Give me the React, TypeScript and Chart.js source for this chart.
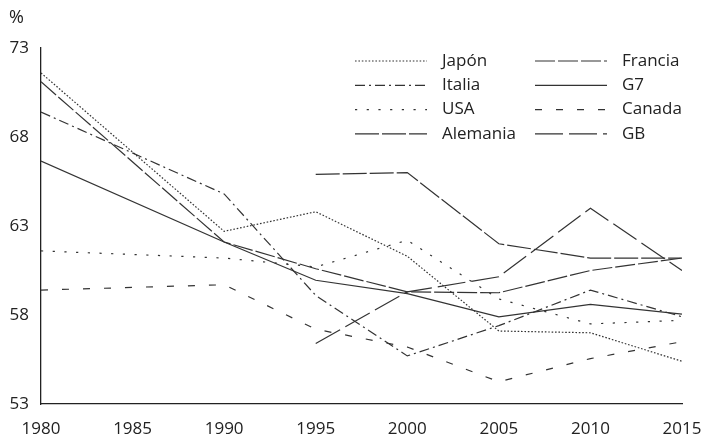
import React, { useEffect, useRef } from "react";
import { Chart, registerables } from "chart.js";

Chart.register(...registerables);

const years = [1980, 1985, 1990, 1995, 2000, 2005, 2010, 2015];
const yTicks = [53, 58, 63, 68, 73];
const xTicks = [1980, 1985, 1990, 1995, 2000, 2005, 2010, 2015];

const japon = [71.6, null, 62.7, 63.8, 61.3, 57.1, 57.0, 55.4];
const italia = [69.4, null, 64.8, 59.1, 55.7, 57.4, 59.4, 57.9];
const usa = [61.6, null, 61.2, 60.7, 62.2, 58.9, 57.5, 57.7];
const alemania = [null, null, null, 65.9, 66.0, 62.0, 61.2, 61.2];
const francia = [71.1, null, 62.1, 60.6, 59.3, 59.25, 60.5, 61.2];
const g7 = [66.65, null, 62.1, 59.95, 59.2, 57.9, 58.6, 58.05];
const canada = [59.4, null, 59.7, 57.2, 56.2, 54.25, 55.55, 56.5];
const gb = [null, null, null, 56.4, 59.3, 60.15, 64.0, 60.5];

const FONT = '"Open Sans", sans-serif';
const INK = "#222";
const LINE = "#333";

const seriesDefs = [
  { label: "Japón", values: japon, dash: [1.6, 1.8] },
  { label: "Italia", values: italia, dash: [10, 4, 2, 4] },
  { label: "USA", values: usa, dash: [2.2, 9.5] },
  { label: "Alemania", values: alemania, dash: [24, 3] },
  { label: "Francia", values: francia, dash: [20, 3] },
  { label: "G7", values: g7, dash: [] as number[] },
  { label: "Canada", values: canada, dash: [7, 14] },
  { label: "GB", values: gb, dash: [28, 6] },
];

const legendPlugin = {
  id: "innerLegend",
  afterDraw(chart: any) {
    const { ctx, chartArea } = chart;
    ctx.save();
    ctx.font = `17px ${FONT}`;
    ctx.textBaseline = "middle";
    ctx.textAlign = "left";
    chart.data.datasets.forEach((ds: any, i: number) => {
      const col = Math.floor(i / 4);
      const row = i % 4;
      const sx = 355 + col * 180;
      const sy = chartArea.top + 13 + row * 24.3;
      ctx.strokeStyle = ds.borderColor;
      ctx.lineWidth = ds.borderWidth;
      ctx.setLineDash(ds.borderDash || []);
      ctx.beginPath();
      ctx.moveTo(sx, sy);
      ctx.lineTo(sx + 72, sy);
      ctx.stroke();
      ctx.setLineDash([]);
      ctx.fillStyle = INK;
      ctx.fillText(ds.label, sx + 87, sy);
    });
    ctx.font = `18px ${FONT}`;
    ctx.fillStyle = INK;
    ctx.fillText("%", chartArea.left - 32, chartArea.top - 30);
    ctx.restore();
  },
};

export default function App() {
  const ref = useRef<HTMLCanvasElement | null>(null);

  useEffect(() => {
    if (!ref.current) return;
    const datasets = seriesDefs.map((s) => ({
      label: s.label,
      data: years.map((y, i) => ({ x: y, y: s.values[i] })),
      borderColor: LINE,
      borderWidth: 1.2,
      borderDash: s.dash,
      pointRadius: 0,
      fill: false,
      spanGaps: true,
      tension: 0,
    }));
    const chart = new Chart(ref.current, {
      type: "line",
      data: { datasets },
      options: {
        responsive: false,
        animation: false,
        layout: { padding: { top: 48, right: 20, left: 0, bottom: 0 } },
        plugins: {
          legend: { display: false },
          tooltip: { enabled: false },
        },
        scales: {
          x: {
            type: "linear",
            min: 1980,
            max: 2015,
            afterBuildTicks: (scale: any) => {
              scale.ticks = xTicks.map((v) => ({ value: v }));
            },
            afterFit: (scale: any) => {
              scale.height = 36;
              scale.paddingLeft = 0;
              scale.paddingRight = 0;
            },
            grid: { display: false, drawTicks: false },
            border: { display: true, color: INK, width: 1.3 },
            ticks: {
              padding: 15,
              color: INK,
              font: { family: FONT, size: 17 },
              maxRotation: 0,
              autoSkip: false,
              callback: (v: any) => String(v),
            },
          },
          y: {
            type: "linear",
            min: 53,
            max: 73,
            afterBuildTicks: (scale: any) => {
              scale.ticks = yTicks.map((v) => ({ value: v }));
            },
            afterFit: (scale: any) => {
              scale.width = 41;
              scale.paddingTop = 0;
              scale.paddingBottom = 0;
            },
            grid: { display: false, drawTicks: false },
            border: { display: true, color: INK, width: 1.3 },
            ticks: {
              padding: 12,
              color: INK,
              font: { family: FONT, size: 17 },
              callback: (v: any) => String(v),
            },
          },
        },
      },
      plugins: [legendPlugin],
    });
    return () => chart.destroy();
  }, []);

  return (
    <div style={{ position: "absolute", left: 0, top: 0, width: 702, height: 440, background: "#fff" }}>
      <canvas ref={ref} width={702} height={440} style={{ display: "block" }} />
    </div>
  );
}
